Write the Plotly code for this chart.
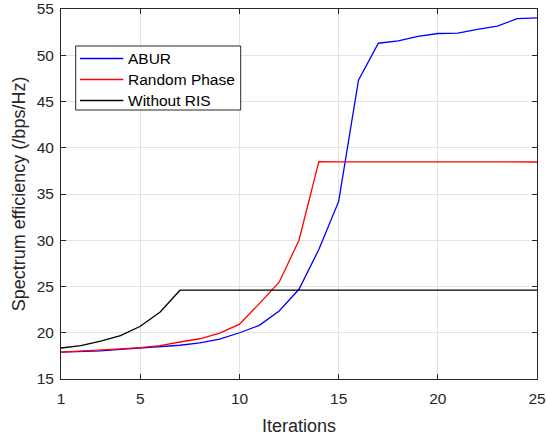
import plotly.graph_objects as go

# Iteration index
iterations = list(range(1, 26))

# Spectrum efficiency per iteration (bps/Hz)
abur = [17.9, 17.95, 18.05, 18.2, 18.35, 18.45, 18.65, 18.9, 19.3, 20.0,
        20.8, 22.35, 24.7, 29.0, 34.2, 47.3, 51.3, 51.55, 52.05, 52.35,
        52.4, 52.8, 53.15, 53.95, 54.05]
random_phase = [17.9, 18.0, 18.1, 18.25, 18.4, 18.6, 19.0, 19.35, 19.95, 20.93,
                23.15, 25.46, 30.0, 38.5, 38.48, 38.48, 38.47, 38.47, 38.47, 38.47,
                38.46, 38.46, 38.46, 38.46, 38.46]
without_ris = [18.35, 18.6, 19.1, 19.7, 20.7, 22.25, 24.6, 24.6, 24.6, 24.6,
               24.6, 24.6, 24.6, 24.6, 24.6, 24.6, 24.6, 24.6, 24.6, 24.6,
               24.6, 24.6, 24.6, 24.6, 24.6]

series_names = ["ABUR", "Random Phase", "Without RIS"]
series_colors = ["#0000ff", "#ff0000", "#000000"]

x_ticks = [1, 5, 10, 15, 20, 25]
y_ticks = [15, 20, 25, 30, 35, 40, 45, 50, 55]

FONT = "Liberation Sans, Arial, Helvetica, sans-serif"
AXIS_COLOR = "#262626"
GRID_COLOR = "#e3e3e3"

W, H = 547, 439
M_L, M_R, M_T, M_B = 61, 10, 9, 60
PLOT_W = W - M_L - M_R
PLOT_H = H - M_T - M_B


def px_x(px):
    """Pixel column -> paper x fraction."""
    return (px - M_L) / PLOT_W


def px_y(py):
    """Pixel row -> paper y fraction."""
    return (H - M_B - py) / PLOT_H


fig = go.Figure()
for name, color, values in zip(series_names, series_colors,
                               [abur, random_phase, without_ris]):
    fig.add_trace(go.Scatter(
        x=iterations, y=values, name=name, mode="lines",
        line=dict(color=color, width=1.3),
    ))

axis_common = dict(
    showline=True, linecolor=AXIS_COLOR, linewidth=1,
    mirror="ticks", ticks="inside", ticklen=5, tickwidth=1,
    tickcolor=AXIS_COLOR, showgrid=True, gridcolor=GRID_COLOR, gridwidth=1,
    zeroline=False, ticklabeloverflow="allow", automargin=False,
    tickfont=dict(family=FONT, size=15.5, color=AXIS_COLOR),
)

fig.update_xaxes(
    range=[1, 25], tickvals=x_ticks, ticklabelstandoff=5,
    title=dict(text="Iterations", font=dict(family=FONT, size=18, color=AXIS_COLOR),
               standoff=13),
    **axis_common,
)
fig.update_yaxes(
    range=[15, 55], tickvals=y_ticks, ticklabelstandoff=3,
    title=dict(text="Spectrum efficiency (/bps/Hz)",
               font=dict(family=FONT, size=18, color=AXIS_COLOR), standoff=6),
    **axis_common,
)

# Legend box drawn in the upper-left corner of the axes
box_left, box_right, box_top, box_bottom = 75.7, 240.7, 46, 110
sample_x0, sample_x1, text_x = 80, 123.3, 126.5
row_y = [58.5, 79.5, 100.5]

shapes = [dict(
    type="rect", xref="paper", yref="paper", layer="above",
    x0=px_x(box_left), x1=px_x(box_right), y0=px_y(box_bottom), y1=px_y(box_top),
    line=dict(color=AXIS_COLOR, width=1), fillcolor="white",
)]
annotations = []
for name, color, ry in zip(series_names, series_colors, row_y):
    shapes.append(dict(
        type="line", xref="paper", yref="paper", layer="above",
        x0=px_x(sample_x0), x1=px_x(sample_x1), y0=px_y(ry), y1=px_y(ry),
        line=dict(color=color, width=1.3),
    ))
    annotations.append(dict(
        text=name, xref="paper", yref="paper", x=px_x(text_x), y=px_y(ry),
        xanchor="left", yanchor="middle", showarrow=False, borderpad=0,
        font=dict(family=FONT, size=15.5, color="#000000"),
    ))

fig.update_layout(
    width=W, height=H,
    margin=dict(l=M_L, r=M_R, t=M_T, b=M_B),
    plot_bgcolor="white", paper_bgcolor="white",
    showlegend=False,
    shapes=shapes, annotations=annotations,
)

fig.write_html("out.html")
